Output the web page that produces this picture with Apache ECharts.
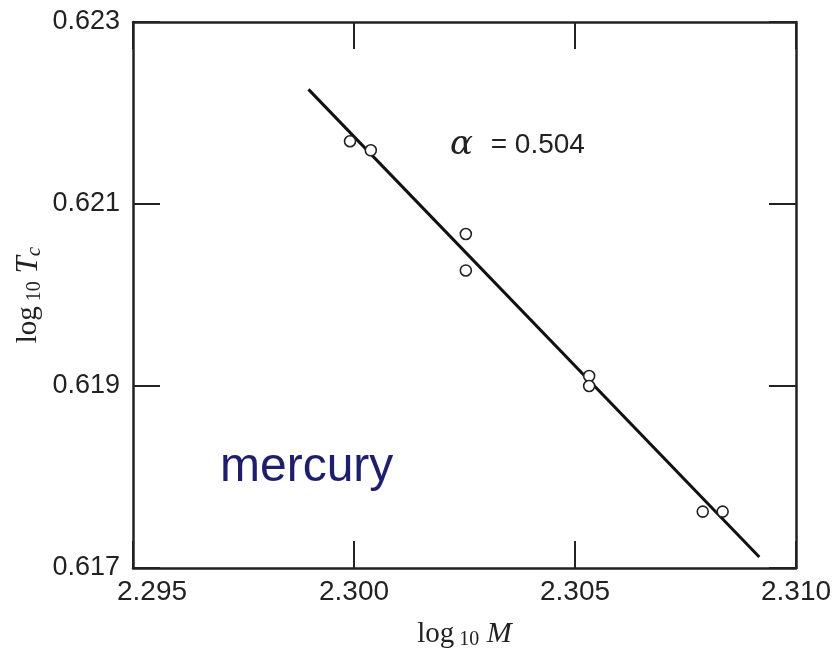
<!DOCTYPE html>
<html>
<head>
<meta charset="utf-8">
<script src="https://cdn.jsdelivr.net/npm/echarts@6/dist/echarts.min.js"></script>
<style>
  html, body { margin: 0; padding: 0; background: #fff; }
  #chart { width: 839px; height: 650px; }
</style>
</head>
<body>
<div id="chart"></div>
<script>
// measured points (log10 M, log10 Tc)
const logM  = [2.29991, 2.30038, 2.30253, 2.30253, 2.30532, 2.30532, 2.30789, 2.30834];
const logTc = [0.62169, 0.62159, 0.62067, 0.62027, 0.61911, 0.61900, 0.61762, 0.61762];

// fitted line end points
const fitM  = [2.29897, 2.30917];
const fitTc = [0.62226, 0.61712];

const xTicks = [2.295, 2.300, 2.305, 2.310];
const yTicks = [0.617, 0.619, 0.621, 0.623];

const ink = '#222';
const sans = 'Liberation Sans, Arial, sans-serif';
const serif = 'Liberation Serif, Times New Roman, serif';

const chart = echarts.init(document.getElementById('chart'));

const tickStyle = { show: true, inside: true, length: 27, lineStyle: { color: ink, width: 2 } };
const lineStyle = { show: true, onZero: false, lineStyle: { color: ink, width: 2.5 } };

chart.setOption({
  backgroundColor: '#fff',
  animation: false,
  grid: { left: 133, right: 43, top: 22, bottom: 82, containLabel: false, outerBoundsMode: 'none' },
  xAxis: [{
    type: 'value',
    min: xTicks[0], max: xTicks[xTicks.length - 1], interval: 0.005,
    axisLine: lineStyle, axisTick: tickStyle, splitLine: { show: false },
    axisLabel: {
      color: ink, fontFamily: sans, fontSize: 28, margin: 10,
      formatter: (v, i) => i === 0 ? '{first|' + v.toFixed(3) + '}' : v.toFixed(3),
      rich: { first: { fontFamily: sans, fontSize: 28, color: ink, padding: [0, 0, 0, 38] } }
    },
    name: '{n|log}{s|10}{i| M}',
    nameLocation: 'middle', nameGap: 50,
    nameTextStyle: {
      rich: {
        n: { fontFamily: serif, fontSize: 29, color: ink },
        s: { fontFamily: serif, fontSize: 20, color: ink, verticalAlign: 'bottom', padding: [12, 0, 0, 5] },
        i: { fontFamily: serif, fontSize: 30, color: ink, fontStyle: 'italic' }
      }
    }
  }, {
    type: 'value', position: 'top',
    min: xTicks[0], max: xTicks[xTicks.length - 1], interval: 0.005,
    axisLine: lineStyle, axisTick: tickStyle, axisLabel: { show: false }, splitLine: { show: false }
  }],
  yAxis: [{
    type: 'value',
    min: yTicks[0], max: yTicks[yTicks.length - 1], interval: 0.002,
    axisLine: lineStyle, axisTick: tickStyle, splitLine: { show: false },
    axisLabel: { color: ink, fontFamily: sans, fontSize: 27, margin: 13, formatter: v => v.toFixed(3) },
    name: '{n|log}{s|10}{i| T}{c|c}',
    nameLocation: 'middle', nameRotate: 90, nameGap: 88, nameMoveOverlap: false,
    nameTextStyle: {
      rich: {
        n: { fontFamily: serif, fontSize: 29, color: ink },
        s: { fontFamily: serif, fontSize: 20, color: ink, verticalAlign: 'bottom', padding: [12, 0, 0, 5] },
        i: { fontFamily: serif, fontSize: 31, color: ink, fontStyle: 'italic' },
        c: { fontFamily: serif, fontSize: 21, color: ink, fontStyle: 'italic', verticalAlign: 'bottom', padding: [12, 0, 0, 0] }
      }
    }
  }, {
    type: 'value', position: 'right',
    min: yTicks[0], max: yTicks[yTicks.length - 1], interval: 0.002,
    axisLine: lineStyle, axisTick: tickStyle, axisLabel: { show: false }, splitLine: { show: false }
  }],
  series: [{
    type: 'line',
    data: fitM.map((m, i) => [m, fitTc[i]]),
    showSymbol: false,
    lineStyle: { color: '#111', width: 3 },
    z: 2
  }, {
    type: 'scatter',
    data: logM.map((m, i) => [m, logTc[i]]),
    symbol: 'circle', symbolSize: 11,
    itemStyle: { color: '#fff', opacity: 1, borderColor: ink, borderWidth: 1.6 },
    z: 3
  }],
  graphic: [{
    type: 'text', left: 450, top: 128,
    style: {
      text: '{g|α}{t| = 0.504}',
      fill: ink,
      rich: {
        g: { fontFamily: 'DejaVu Serif, serif', fontStyle: 'italic', fontSize: 34, fill: ink, padding: [0, 10, 0, 0] },
        t: { fontFamily: sans, fontSize: 28, fill: ink }
      }
    }
  }, {
    type: 'text', left: 220, top: 444,
    style: { text: 'mercury', fontFamily: sans, fontSize: 48, fill: '#1e1e70' }
  }]
});
</script>
</body>
</html>
